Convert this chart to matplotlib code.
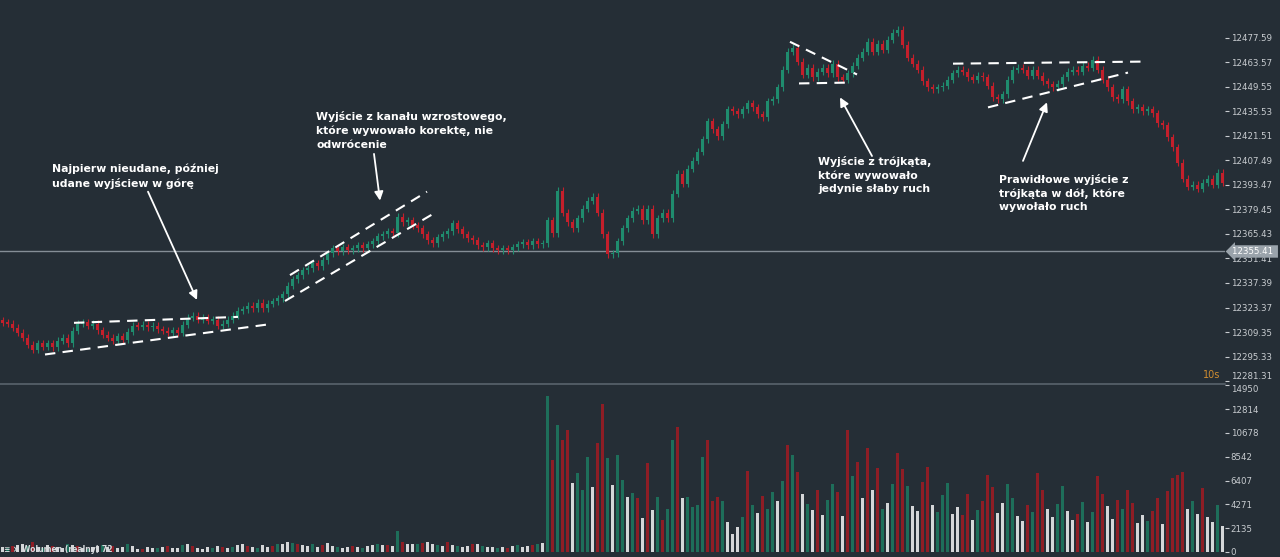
import matplotlib.pyplot as plt
import matplotlib.transforms as mtransforms
from matplotlib.lines import Line2D
import numpy as np

BG = "#252e36"
UP = "#1f8c6e"
DOWN = "#c41f2b"
VOL_COLORS = {"g": "#1e6e5a", "r": "#8e1d25", "w": "#d4d6d8"}

# close prices, one per candle (open = previous close)
closes = [
    12314.6, 12314.0, 12311.8, 12309.0, 12306.0, 12302.0, 12299.3, 12303.0, 12301.0, 12303.0,
    12300.5, 12304.5, 12306.0, 12303.0, 12310.0, 12314.0, 12315.0, 12313.0, 12314.0, 12310.5,
    12307.8, 12306.0, 12304.5, 12307.0, 12305.0, 12309.5, 12313.0, 12312.5, 12313.5, 12312.0,
    12313.0, 12311.0, 12310.0, 12309.0, 12310.5, 12309.0, 12313.5, 12317.5, 12318.6, 12316.3,
    12317.5, 12315.8, 12316.3, 12313.0, 12314.0, 12316.3, 12318.6, 12321.5, 12322.5, 12324.3,
    12323.0, 12326.0, 12323.0, 12325.4, 12327.0, 12328.8, 12331.0, 12335.7, 12339.6, 12341.9,
    12344.7, 12345.9, 12348.7, 12347.0, 12350.4, 12354.4, 12357.2, 12355.5, 12357.8, 12356.0,
    12357.2, 12358.9, 12357.2, 12359.5, 12361.2, 12364.0, 12365.2, 12366.9, 12365.8, 12375.4,
    12372.0, 12373.2, 12370.3, 12368.6, 12365.2, 12361.8, 12360.0, 12363.5, 12365.2, 12366.9,
    12371.5, 12368.0, 12365.2, 12362.9, 12361.8, 12359.0, 12357.8, 12360.0, 12357.2, 12356.0,
    12357.2, 12356.0, 12357.8, 12359.5, 12360.6, 12359.0, 12361.2, 12359.5, 12360.0, 12373.2,
    12365.8, 12390.0, 12377.6, 12372.0, 12368.6, 12374.3, 12379.9, 12384.5, 12386.7, 12377.6,
    12365.2, 12353.8, 12354.4, 12361.2, 12368.6, 12374.3, 12378.8, 12379.9, 12373.2, 12379.9,
    12365.2, 12374.3, 12377.6, 12374.3, 12388.5, 12399.8, 12394.1, 12402.6, 12407.2, 12412.3,
    12419.7, 12429.9, 12425.4, 12421.4, 12428.2, 12436.7, 12435.6, 12433.9, 12436.7, 12440.1,
    12437.8, 12433.9, 12432.2, 12441.2, 12442.4, 12449.2, 12459.4, 12469.6, 12471.9, 12464.0,
    12456.6, 12460.6, 12454.9, 12458.3, 12460.6, 12457.2, 12462.8, 12454.9, 12453.7, 12457.2,
    12461.7, 12466.2, 12469.6, 12475.3, 12469.6, 12474.1, 12470.8, 12476.5, 12480.4, 12482.1,
    12473.6, 12466.2, 12462.8, 12459.4, 12452.6, 12449.2, 12448.1, 12449.2, 12450.3, 12453.7,
    12457.2, 12459.4, 12458.3, 12454.9, 12453.7, 12456.0, 12454.9, 12450.3, 12443.5, 12442.4,
    12445.2, 12453.7, 12459.4, 12460.6, 12459.4, 12456.0, 12459.4, 12456.0, 12452.6, 12450.9,
    12449.2, 12451.4, 12454.9, 12458.3, 12459.4, 12458.3, 12461.7, 12460.6, 12465.1, 12459.4,
    12453.7, 12449.2, 12443.5, 12442.4, 12448.1, 12441.2, 12436.7, 12437.8, 12435.6, 12436.7,
    12434.4, 12428.8, 12427.6, 12420.8, 12415.1, 12406.0, 12397.0, 12392.4, 12393.5, 12391.3,
    12394.7, 12397.0, 12393.5, 12400.4, 12394.7,
]
first_open = 12316.0
wick = 2.0

volumes = [
    420, 380, 520, 610, 700, 560, 880, 450, 390, 620,
    530, 470, 340, 720, 650, 500, 380, 290, 430, 560,
    610, 480, 520, 350, 440, 690, 580, 310, 260, 410,
    370, 330, 450, 520, 400, 360, 610, 740, 520, 380,
    300, 420, 350, 570, 460, 390, 480, 630, 700, 540,
    460, 380, 590, 420, 510, 680, 760, 920, 850, 700,
    640, 560, 720, 480, 610, 780, 530, 460, 390, 420,
    510, 470, 380, 560, 620, 710, 590, 640, 520, 1900,
    860, 720, 680, 760, 840, 910, 720, 630, 560, 880,
    640, 520, 470, 580, 690, 740, 520, 460, 410, 380,
    450, 390, 520, 610, 480, 560, 620, 740, 840,
    13980, 8240, 11380, 10035, 10930, 6180, 7080, 5550, 8510, 5820,
    9770, 13260, 8420, 6000, 8690, 6450, 4930, 5290, 4800, 3050,
    7970, 3760, 4900, 2900, 3900, 10035, 11200, 4840, 4900, 4000,
    4200, 8510, 10035, 4600, 4900, 4600, 2700, 1600,
    2200, 3100, 7300, 4200, 3500, 5000, 3900, 5400, 4600, 6400,
    9600, 8700, 7200, 5200, 4300, 3800, 5600, 3300, 4700, 6100,
    5400, 3200, 10900, 6800, 8100, 4800, 9300, 5600, 7500, 3900,
    4400, 6100, 8900, 7400, 5900, 4100, 3700, 6300, 7600, 4200,
    3600, 5100, 6200, 3400, 4000, 3300, 5200, 2900, 3800, 4600,
    6900, 5800, 3500, 4400, 6100, 4800, 3200, 2800, 4200, 3600,
    7100, 5600, 3900, 3100, 4300, 5900, 3700, 2900, 3400, 4500,
    2700, 3600, 6800, 5200, 4100, 3000, 4700, 3900, 5600, 4400,
    2600, 3300, 2800, 3700, 4800, 2500, 5500, 6600, 6900, 7200,
    3900, 4600, 3400, 5700, 3100, 2700, 4200, 2300,
]
vol_kinds = list(
    "wgrwwgrwgw" "rwwgwrwgww" "gwrwwgwwrw" "wgwrwwgwrw" "wwgwrwgwwr"
    "wgwwrgwwgr" "wwgwrwwgww" "rwgwwgwrwg" "rwwgrwwgwr" "wgwwrwgwwg" "wrwgwwrgw"
    "grgrrwgggw" "rrgwggwgrw" "rwgrggrwgg" "ggrrrgww"
    "wgrgwrggwg" "rgrwgwrwgg" "rwrgrwrwrg" "wgrrgwwrrw" "gggwwrrwgr"
    "rrwwggwwrg" "rrwwggwwrg" "wgrrwwrgrr" "wwgrrwrrrr" "wgwrwwgw"
)

price_ticks = [12281.31, 12295.33, 12309.35, 12323.37, 12337.39, 12351.41, 12365.43,
               12379.45, 12393.47, 12407.49, 12421.51, 12435.53, 12449.55, 12463.57, 12477.59]
vol_ticks = [0, 2135, 4271, 6407, 8542, 10678, 12814, 14950]
last_price = 12355.41

# trend lines: (candle index, price) pairs
trend_lines = [
    [(14.3, 12314.6), (47.1, 12318.0)],
    [(8.5, 12296.5), (53.9, 12314.0)],
    [(57.5, 12341.9), (84.9, 12389.6)],
    [(56.5, 12327.1), (86.9, 12378.2)],
    [(157.5, 12475.3), (170.9, 12456.6)],
    [(159.3, 12451.5), (169.9, 12452.0)],
    [(190.1, 12462.8), (228.9, 12464.0)],
    [(197.1, 12437.8), (225.1, 12457.7)],
]
# arrows: tail, head
arrows = [
    [(29.1, 12389.6), (38.9, 12327.7)],
    [(74.3, 12411.2), (75.5, 12384.5)],
    [(173.9, 12410.0), (167.5, 12443.5)],
    [(204.1, 12407.2), (208.9, 12440.7)],
]
notes = [
    (9.9, 12405.5, "Najpierw nieudane, później\nudane wyjściew w górę"),
    (62.7, 12435.5, "Wyjście z kanału wzrostowego,\nktóre wywowało korektę, nie\nodwrócenie"),
    (163.1, 12410.0, "Wyjście z trójkąta,\nktóre wywowało\njedynie słaby ruch"),
    (199.3, 12399.8, "Prawidłowe wyjście z\ntrójkąta w dół, które\nwywołało ruch"),
]

n = len(closes)
x = np.arange(n)
c = np.array(closes)
o = np.concatenate([[first_open], c[:-1]])
hi = np.maximum(o, c) + wick
lo = np.minimum(o, c) - wick
col = np.where(c >= o, UP, DOWN)

W, H = 1280, 557
fig = plt.figure(figsize=(12.8, 5.57), dpi=100, facecolor=BG)
ax = fig.add_axes([0, 1 - 383 / H, 1225 / W, 383 / H], facecolor=BG)
axv = fig.add_axes([0, 0, 1225 / W, 172 / H], facecolor=BG)

ax.vlines(x, lo, hi, color=col, lw=0.8, zorder=2)
ax.bar(x, np.maximum(np.abs(c - o), 0.8), bottom=np.minimum(o, c), width=0.6,
       color=col, zorder=3, linewidth=0)
ax.axhline(last_price, color="#858e96", lw=1, zorder=1)

for (x0, y0), (x1, y1) in trend_lines:
    ax.plot([x0, x1], [y0, y1], color="white", lw=1.5, dashes=(5, 3.5), zorder=5)
for tail, head in arrows:
    ax.annotate("", xy=head, xytext=tail,
                arrowprops=dict(arrowstyle="-|>", color="white", lw=1.3, mutation_scale=13,
                                shrinkA=0, shrinkB=0), zorder=5)
for tx, ty, s in notes:
    ax.text(tx, ty, s, color="white", fontsize=7.8, fontweight="bold", va="top", ha="left",
            linespacing=1.4, zorder=6)

ax.set_xlim(-0.5, n - 0.5)
ax.set_ylim(12280.2, 12499.2)
ax.yaxis.tick_right()
ax.set_yticks(price_ticks, [f"{v:.2f}" for v in price_ticks])
ax.set_xticks([])
ax.tick_params(axis="y", colors="#c9cdd1", labelsize=6.2, length=3, width=0.8, pad=1)
ax.get_yticklabels()[0].set_verticalalignment("bottom")
for sp in ax.spines.values():
    sp.set_visible(False)

trans = mtransforms.blended_transform_factory(ax.transAxes, ax.transData)
ax.text(1.006, last_price, "12355.41 ", transform=trans, color="white", fontsize=6.2,
        ha="left", va="center", clip_on=False, zorder=10,
        bbox=dict(boxstyle="larrow,pad=0.2", fc="#9aa3ab", ec="none"))
ax.text(0.996, 12284.5, "10s", transform=trans, color="#d08c30", fontsize=7,
        ha="right", va="center")

vcol = [VOL_COLORS[k] for k in vol_kinds]
axv.bar(x, volumes, width=0.45, color=vcol, linewidth=0)
axv.set_xlim(-0.5, n - 0.5)
axv.set_ylim(-450, 14980)
axv.yaxis.tick_right()
axv.set_yticks(vol_ticks, [str(v) for v in vol_ticks])
axv.set_xticks([])
axv.tick_params(axis="y", colors="#c9cdd1", labelsize=6.2, length=3, width=0.8, pad=1)
axv.get_yticklabels()[-1].set_verticalalignment("top")
for sp in axv.spines.values():
    sp.set_visible(False)
axv.text(0.003, 0.02, "≡ × Wolumen (realny) 72", transform=axv.transAxes, color="#d9dcdf",
         fontsize=5.5, fontweight="bold", ha="left", va="bottom", zorder=5)

fig.add_artist(Line2D([0, 1225 / W], [1 - 384 / H] * 2, color="#59636d", lw=1.2))

fig.savefig("out.png", dpi=100, facecolor=BG)
